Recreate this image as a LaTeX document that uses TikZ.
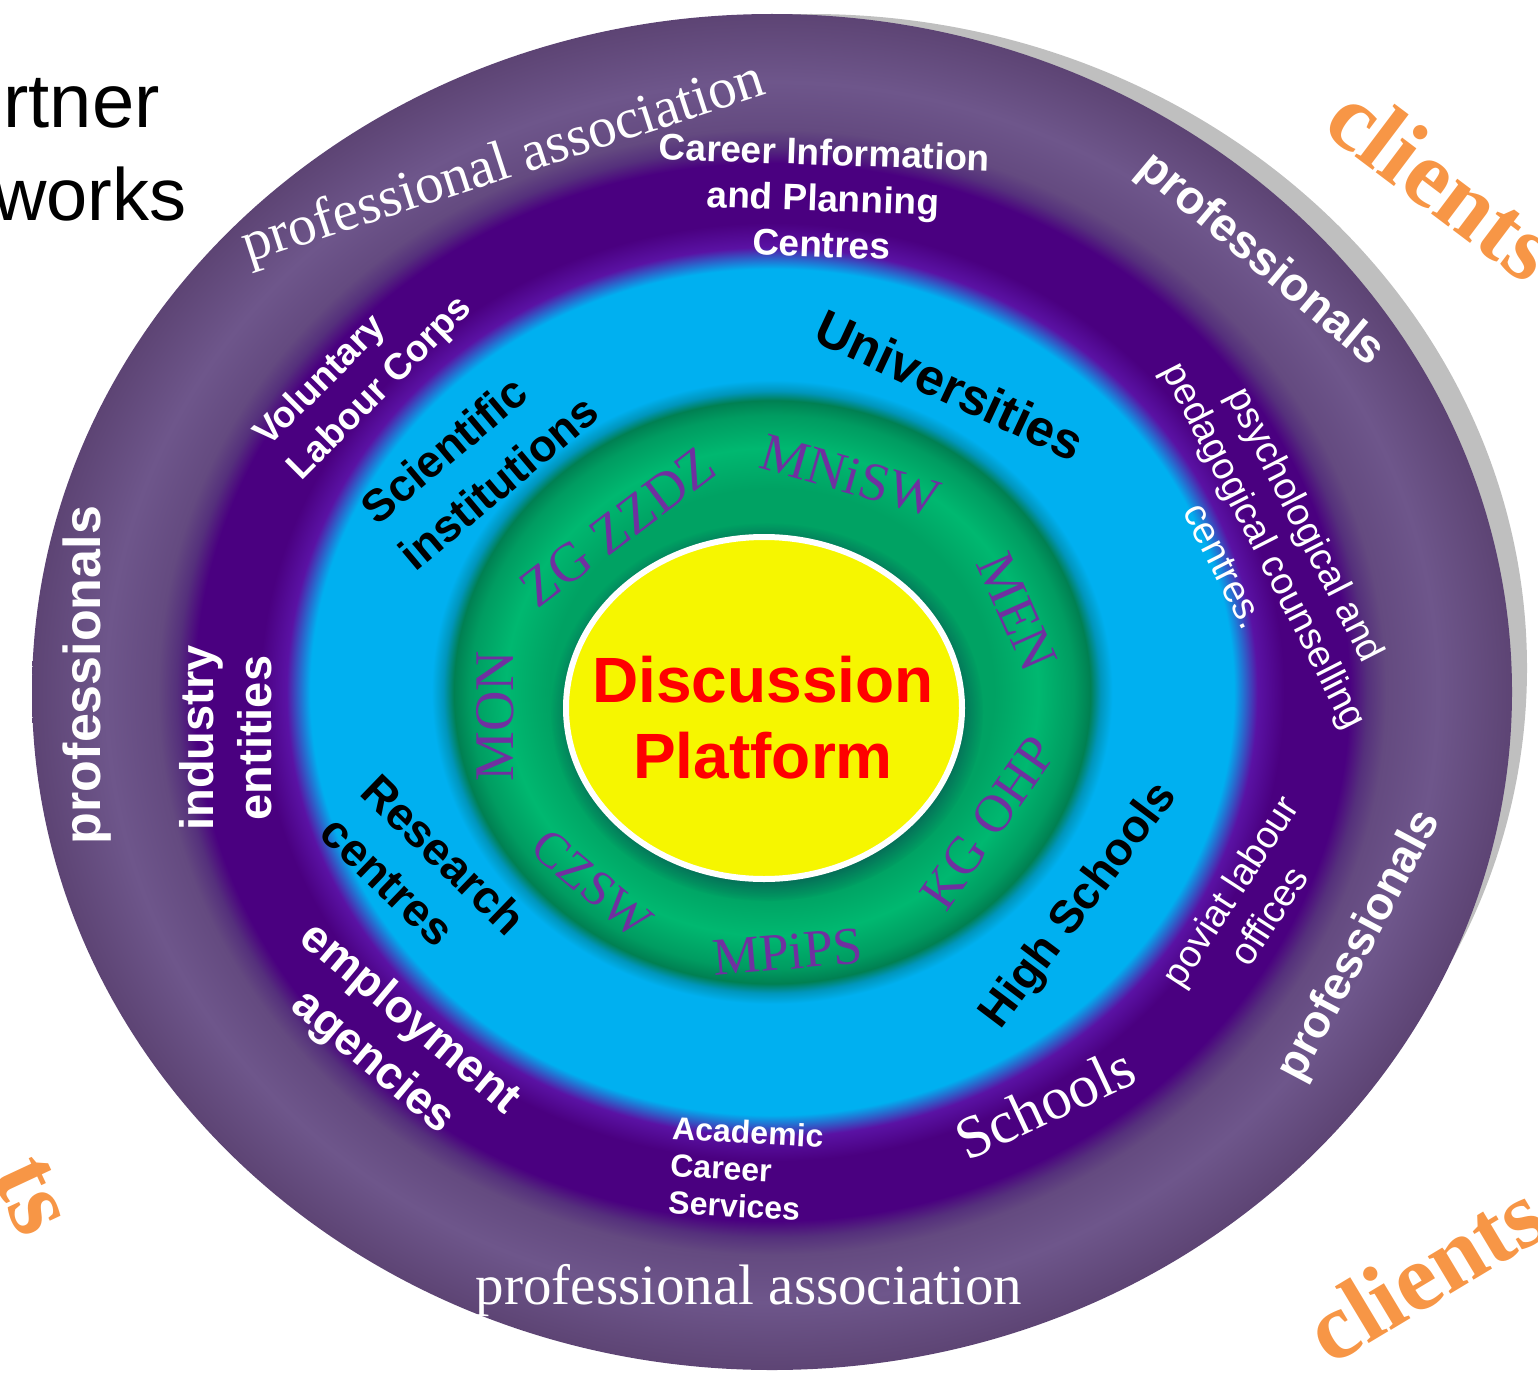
\documentclass[tikz,border=0pt]{standalone}
\usepackage{fontspec}
\setmainfont{Liberation Serif}
\setsansfont{Liberation Sans}
\usetikzlibrary{fadings}

\definecolor{shadowgray}{HTML}{BFBFBF}
\definecolor{greencore}{HTML}{00A263}
\definecolor{greenbright}{HTML}{00B870}
\definecolor{greenmid}{HTML}{009C61}
\definecolor{greenedge}{HTML}{008052}
\definecolor{tealedge}{HTML}{0096BC}
\definecolor{ringcyan}{HTML}{00B0F0}
\definecolor{violetedge}{HTML}{5A12A4}
\definecolor{ringindigo}{HTML}{4A0080}
\definecolor{indigoedge}{HTML}{55307C}
\definecolor{mauvein}{HTML}{644A80}
\definecolor{mauvelight}{HTML}{6E568B}
\definecolor{mauveout}{HTML}{5D4474}
\definecolor{rimshadow}{HTML}{0A4A50}
\definecolor{discyellow}{HTML}{F6F600}
\definecolor{discred}{HTML}{FF0000}
\definecolor{minpurple}{HTML}{7030A0}
\definecolor{clientorange}{HTML}{F79646}

\pgfdeclareradialshading{partnerrings}{\pgfpoint{0bp}{0bp}}{%
  color(0bp)=(greencore); color(7.5bp)=(greencore);
  color(9bp)=(greenbright); color(10.2bp)=(greenmid);
  color(10.75bp)=(greenedge); color(11.1bp)=(tealedge);
  color(11.5bp)=(ringcyan); color(15.6bp)=(ringcyan);
  color(16.4bp)=(violetedge); color(17.3bp)=(ringindigo);
  color(19.5bp)=(ringindigo); color(20.1bp)=(indigoedge);
  color(20.75bp)=(mauvein); color(22.5bp)=(mauvelight);
  color(25bp)=(mauveout); color(50bp)=(mauveout)}

\newcommand{\fsz}[2]{\fontsize{#1}{#2}\selectfont}

\tikzset{every picture/.style={line width=0.75pt}}
\tikzset{
  ringlabel/.style 2 args={text=white, font=\sffamily\bfseries\fsz{#1}{#2}, inner sep=0.75pt},
  ringplain/.style 2 args={text=white, font=\sffamily\fsz{#1}{#2}, inner sep=0.75pt},
  corelabel/.style 2 args={text=black, font=\sffamily\bfseries\fsz{#1}{#2}, inner sep=0.75pt},
  ministry/.style={text=minpurple, font=\rmfamily\fsz{#1}{#1}, inner sep=0.75pt},
  assocword/.style={text=white, font=\rmfamily\fsz{#1}{#1}, inner sep=0.75pt},
  clientword/.style={text=clientorange, font=\rmfamily\bfseries\fsz{#1}{#1}, inner sep=0.75pt}
}

\begin{document}
\begin{tikzpicture}[x=1pt,y=1pt,yscale=-1,xscale=1]
\useasboundingbox (0,0) rectangle (1538,1375);

%Shape: Ellipse [id:shadow]
\fill [shadowgray] (811,668) ellipse (716 and 654);
%Shape: Ellipse [id:rings]
\shade [shading=partnerrings] (772,692) ellipse (740 and 678);
%Shape: Ellipse [id:rim]
\fill [rimshadow, path fading=circle with fuzzy edge 15 percent, fill opacity=0.8] (767,712) ellipse (216 and 189);
%Shape: Ellipse [id:platform]
\draw [draw=white, line width=6, fill=discyellow] (764,708) ellipse (198 and 171);

% Text Node
\draw (160,128) node (rtner) [anchor=base east] [inner sep=0pt] [font=\sffamily\fsz{76}{76}] {rtner};
% Text Node
\draw (187,220) node (works) [anchor=base east] [inner sep=0pt] [font=\sffamily\fsz{74}{74}] {works};

% Text Node
\draw (763,718) node (platformtext) [text=discred] [font=\sffamily\bfseries\fsz{64}{76}] [align=center] {Discussion\\Platform};

% Text Node
\draw (504,165) node (assoctop) [assocword=57] [rotate=18] {professional association};
% Text Node
\draw (749,1290) node (assocbottom) [assocword=57] {professional association};
% Text Node
\draw (1260,260) node (profright) [ringlabel={47}{47}] [rotate=-40] {professionals};
% Text Node
\draw (87,675) node (profleft) [ringlabel={52}{52}] [rotate=90] {professionals};
% Text Node
\draw (1360,946) node (profbottom) [ringlabel={46}{46}] [rotate=62] {professionals};

% Text Node
\draw (823,198) node (careerinfo) [ringlabel={37}{46}] [rotate=-2] [align=center] {Career Information\\and Planning\\Centres};
% Text Node
\draw (364,372) node (voluntary) [ringlabel={37}{47}] [rotate=45] [align=left] {Voluntary\\Labour Corps};
% Text Node
\draw (1266,545) node (psychped) [ringplain={38}{46}] [rotate=-63] [align=center] {psychological and\\pedagogical counselling\\centres.};
% Text Node
\draw (226,738) node (industry) [ringlabel={47}{58}] [rotate=90] [align=center] {industry\\entities};
% Text Node
\draw (391,1041) node (employment) [ringlabel={46}{57}] [rotate=-40] [align=center] {employment\\agencies};
% Text Node
\draw (746,1169) node (academic) [ringlabel={32}{37}] [rotate=-3] [align=left] {Academic\\Career\\Services};
% Text Node
\draw (1045,1103) node (schools) [assocword=60] [rotate=25] {Schools};
% Text Node
\draw (1249,903) node (poviat) [ringplain={38}{46}] [rotate=57] [align=center] {poviat labour\\offices};

% Text Node
\draw (479,459) node (scientific) [corelabel={45}{60}] [rotate=40] [align=left] {Scientific\\institutions};
% Text Node
\draw (950,385) node (universities) [corelabel={51}{51}] [rotate=-25] {Universities};
% Text Node
\draw (424,875) node (research) [corelabel={46}{58}] [rotate=-44] [align=left] {Research\\centres};
% Text Node
\draw (1080,906) node (highschools) [corelabel={46}{46}] [rotate=53] {High Schools};

% Text Node
\draw (495,716) node (mon) [ministry=56] [rotate=90] {MON};
% Text Node
\draw (618,527) node (zgzzdz) [ministry=55] [rotate=37] {ZG ZZDZ};
% Text Node
\draw (850,476) node (mnisw) [ministry=54] [rotate=-16] {MNiSW};
% Text Node
\draw (1017,612) node (men) [ministry=55] [rotate=-66] {MEN};
% Text Node
\draw (988,823) node (kgohp) [ministry=53] [rotate=55] {KG OHP};
% Text Node
\draw (788,952) node (mpips) [ministry=53] [rotate=5] {MPiPS};
% Text Node
\draw (592,884) node (czsw) [ministry=50] [rotate=-40] {CZSW};

% Text Node
\draw (1443,182) node (clientstop) [clientword=95] [rotate=-37] {clients};
% Text Node
\draw (1425,1272) node (clientsbottom) [clientword=95] [rotate=31] {clients};
% Text Node
\draw (32,1196) node (clientsleft) [clientword=100] [rotate=-65] {ts};

\end{tikzpicture}
\end{document}
